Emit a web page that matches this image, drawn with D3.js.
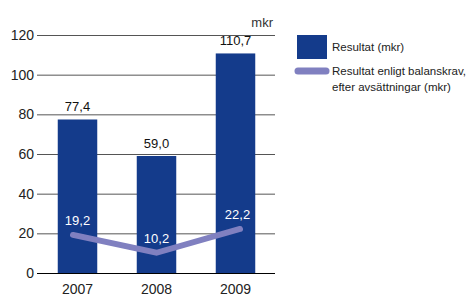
<!DOCTYPE html>
<html>
<head>
<meta charset="utf-8">
<script src="https://cdn.jsdelivr.net/npm/d3@7"></script>
<style>
  body { margin: 0; background: #fff; }
  text { font-family: "Liberation Sans", Arial, sans-serif; }
</style>
</head>
<body>
<div id="chart"></div>
<script>
const years = ['2007', '2008', '2009'];
const resultat = [77.4, 59.0, 110.7];
const balanskrav = [19.2, 10.2, 22.2];
const yTicks = [0, 20, 40, 60, 80, 100, 120];
const legendLabels = ['Resultat (mkr)', ['Resultat enligt balanskrav,', 'efter avsättningar (mkr)']];

const width = 476, height = 296;
const barColor = '#143b8b';
const lineColor = '#8080c0';
const fmt = v => d3.format('.1f')(v).replace('.', ',');

const svg = d3.select('#chart')
    .append('svg')
    .attr('width', width)
    .attr('height', height);

const x = d3.scaleBand()
    .domain(years)
    .range([38, 275])
    .paddingInner(0.5)
    .paddingOuter(0.25);

const y = d3.scaleLinear()
    .domain([0, 120])
    .range([273, 35]);

// line runs a little wider than the bar centres
const xLine = d3.scalePoint()
    .domain(years)
    .range([73, 240]);

// grid / tick lines
const yAxis = svg.append('g')
    .attr('transform', 'translate(37,0)')
    .call(d3.axisRight(y).tickValues(yTicks).tickSize(238).tickFormat(''));
yAxis.select('.domain').remove();
yAxis.selectAll('.tick line')
    .attr('stroke', d => d === 0 ? '#000' : '#555')
    .attr('stroke-width', 1);

svg.selectAll('.ylabel')
    .data(yTicks)
    .enter()
    .append('text')
    .attr('class', 'ylabel')
    .attr('x', 34)
    .attr('y', d => y(d) + 5)
    .attr('text-anchor', 'end')
    .attr('font-size', 14)
    .attr('fill', '#222')
    .text(d => d);

svg.append('text')
    .attr('x', 273)
    .attr('y', 27)
    .attr('text-anchor', 'end')
    .attr('font-size', 13)
    .attr('fill', '#333')
    .text('mkr');

// bars
svg.selectAll('.bar')
    .data(resultat)
    .enter()
    .append('rect')
    .attr('class', 'bar')
    .attr('x', (d, i) => x(years[i]))
    .attr('y', d => y(d))
    .attr('width', x.bandwidth())
    .attr('height', d => y(0) - y(d))
    .attr('fill', barColor);

svg.selectAll('.barlabel')
    .data(resultat)
    .enter()
    .append('text')
    .attr('class', 'barlabel')
    .attr('x', (d, i) => x(years[i]) + x.bandwidth() / 2)
    .attr('y', d => y(d) - 8)
    .attr('text-anchor', 'middle')
    .attr('font-size', 13)
    .attr('fill', '#111')
    .text(fmt);

// line
const line = d3.line()
    .x((d, i) => xLine(years[i]))
    .y(d => y(d));

svg.append('path')
    .datum(balanskrav)
    .attr('fill', 'none')
    .attr('stroke', lineColor)
    .attr('stroke-width', 6)
    .attr('stroke-linecap', 'round')
    .attr('stroke-linejoin', 'miter')
    .attr('d', line);

svg.selectAll('.linelabel')
    .data(balanskrav)
    .enter()
    .append('text')
    .attr('class', 'linelabel')
    .attr('x', (d, i) => x(years[i]) + x.bandwidth() / 2 + (i === 2 ? 2 : 0))
    .attr('y', d => y(d) - 10)
    .attr('text-anchor', 'middle')
    .attr('font-size', 13)
    .attr('fill', '#fff')
    .text(fmt);

// x labels
svg.selectAll('.xlabel')
    .data(years)
    .enter()
    .append('text')
    .attr('class', 'xlabel')
    .attr('x', d => x(d) + x.bandwidth() / 2)
    .attr('y', 294)
    .attr('text-anchor', 'middle')
    .attr('font-size', 14)
    .attr('fill', '#222')
    .text(d => d);

// legend
const legend = svg.append('g');
legend.append('rect')
    .attr('x', 297)
    .attr('y', 35)
    .attr('width', 30)
    .attr('height', 24)
    .attr('fill', barColor);
legend.append('text')
    .attr('x', 332)
    .attr('y', 51)
    .attr('font-size', 11.5)
    .attr('fill', '#222')
    .text(legendLabels[0]);
legend.append('line')
    .attr('x1', 298)
    .attr('x2', 326)
    .attr('y1', 71)
    .attr('y2', 71)
    .attr('stroke', lineColor)
    .attr('stroke-width', 7)
    .attr('stroke-linecap', 'round');
legend.append('text')
    .attr('font-size', 11.5)
    .attr('fill', '#222')
    .selectAll('tspan')
    .data(legendLabels[1])
    .enter()
    .append('tspan')
    .attr('x', 332)
    .attr('y', (d, i) => 75 + i * 16)
    .text(d => d);
</script>
</body>
</html>
